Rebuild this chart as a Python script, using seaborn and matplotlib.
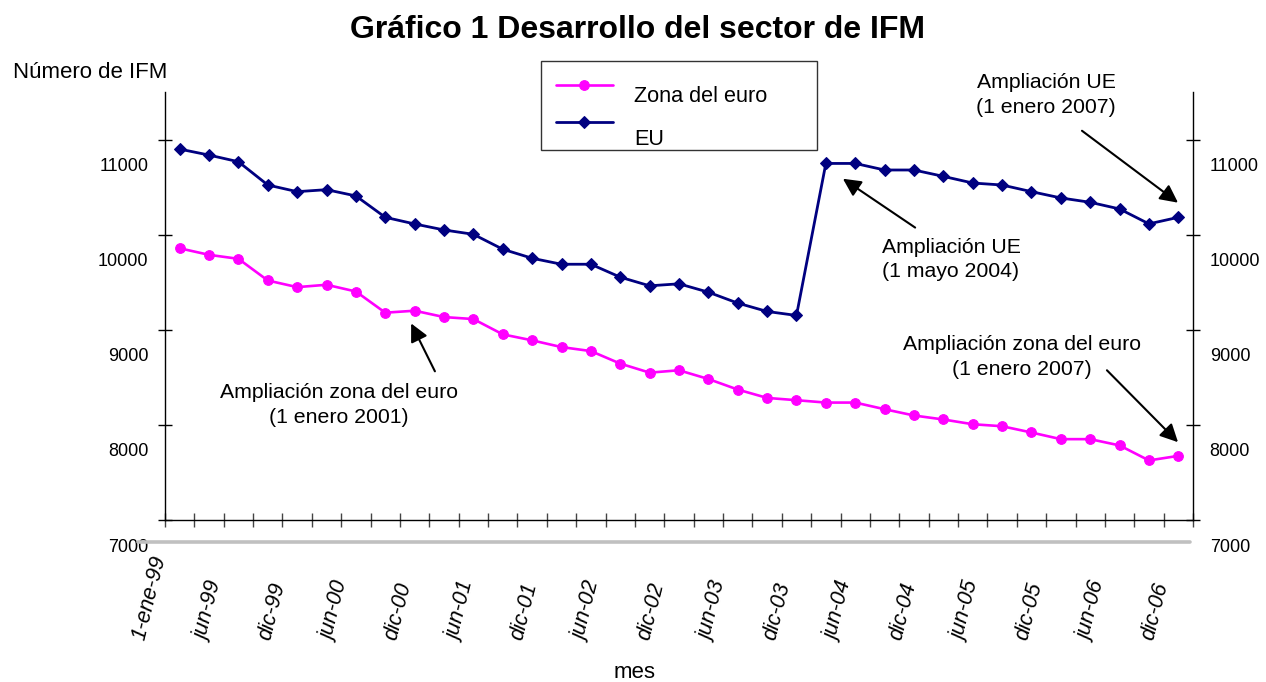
import numpy as np
import pandas as pd
import matplotlib
matplotlib.use("Agg")
import matplotlib.pyplot as plt
import matplotlib.transforms as mtransforms
import seaborn as sns

# ---------------- data ----------------
etiquetas = ["1-ene-99", "jun-99", "dic-99", "jun-00", "dic-00", "jun-01", "dic-01",
             "jun-02", "dic-02", "jun-03", "dic-03", "jun-04", "dic-04", "jun-05",
             "dic-05", "jun-06", "dic-06"]

zona_euro = [9860, 9791, 9749, 9521, 9451, 9476, 9405, 9182, 9203, 9136, 9115,
             8954, 8891, 8820, 8778, 8646, 8551, 8576, 8484, 8373, 8285, 8261,
             8236, 8236, 8166, 8100, 8058, 8008, 7987, 7921, 7851, 7851, 7785,
             7627, 7675]

eu = [10904, 10841, 10771, 10526, 10456, 10477, 10411, 10186, 10116, 10053, 10007,
      9850, 9755, 9692, 9692, 9556, 9465, 9486, 9398, 9283, 9195, 9153,
      10753, 10753, 10684, 10684, 10617, 10547, 10526, 10456, 10390, 10344, 10274,
      10117, 10186]

y_ticks = [7000, 8000, 9000, 10000, 11000]

# ---------------- style ----------------
sns.set_theme(style="white")
plt.rcParams["font.family"] = ["Liberation Sans", "DejaVu Sans"]
plt.rcParams["text.color"] = "black"
plt.rcParams["axes.labelcolor"] = "black"
plt.rcParams["xtick.color"] = "black"
plt.rcParams["ytick.color"] = "black"

W, H = 1266, 682
fig = plt.figure(figsize=(W / 100, H / 100), dpi=100)
ax = fig.add_axes([165 / W, 1 - 520 / H, 1028 / W, 428 / H])

df = pd.DataFrame({"periodo": np.arange(len(zona_euro)),
                   "Zona del euro": zona_euro, "EU": eu})

MAG = "#FF00FF"
NAVY = "#000080"
sns.lineplot(data=df, x="periodo", y="Zona del euro", ax=ax, color=MAG,
             marker="o", markersize=7, markeredgecolor=MAG, linewidth=1.9,
             label="Zona del euro")
sns.lineplot(data=df, x="periodo", y="EU", ax=ax, color=NAVY,
             marker="D", markersize=6.5, markeredgecolor=NAVY, linewidth=2.0,
             label="EU")

ax.set_xlim(-0.5, len(zona_euro) - 0.5)
ax.set_ylim(7000, 11505)
ax.set_xlabel("")
ax.set_ylabel("")

# category boundary ticks
ax.set_xticks(np.arange(-0.5, len(zona_euro), 1))
ax.tick_params(axis="x", direction="inout", length=9.5, width=1,
               color="#444444", bottom=True, labelbottom=False)

ax.set_yticks(y_ticks)
ax.set_yticklabels([str(v) for v in y_ticks])
ax.tick_params(axis="y", direction="inout", length=10, width=1, color="black",
               left=True, right=True, labelleft=True, labelright=True,
               labelsize=13, pad=7, labelcolor="black")
shift = mtransforms.ScaledTranslation(0, -0.25, fig.dpi_scale_trans)
for t in ax.yaxis.get_major_ticks():
    t.label1.set_transform(t.label1.get_transform() + shift)
    t.label2.set_transform(t.label2.get_transform() + shift)

for side in ["left", "right", "bottom"]:
    ax.spines[side].set_visible(True)
    ax.spines[side].set_color("black")
    ax.spines[side].set_linewidth(1.0)
ax.spines["top"].set_visible(False)

# grey secondary baseline
ax.axhline(6769, xmin=-0.026, xmax=0.997, color="#c0c0c0", lw=2.6, clip_on=False)

# rotated date labels on their own label axis
lab_ax = fig.add_axes([139 / W, 1 - 640 / H, 1009 / W, 0.001])
lab_ax.set_xlim(0, len(etiquetas) - 1)
lab_ax.set_xticks(np.arange(len(etiquetas)))
lab_ax.set_xticklabels(etiquetas, rotation=76, ha="left", va="center",
                       rotation_mode="anchor", fontsize=15.5, style="italic",
                       color="black")
lab_ax.tick_params(axis="x", length=0, pad=0)
lab_ax.set_yticks([])
for s in lab_ax.spines.values():
    s.set_visible(False)
lab_ax.patch.set_alpha(0)

# legend
leg = ax.legend(loc="upper left", bbox_to_anchor=(541 / W, 1 - 61 / H, 276 / W, 0),
                bbox_transform=fig.transFigure, mode="expand", frameon=True,
                fancybox=False, edgecolor="black", fontsize=15.6,
                handlelength=2.6, handletextpad=1.0, borderpad=0.7,
                labelspacing=0.78, borderaxespad=0)
leg.get_frame().set_linewidth(1.0)
for txt, dy in zip(leg.get_texts(), [0.10, 0.15]):
    txt.set_color("black")
    txt.set_transform(txt.get_transform() +
                      mtransforms.ScaledTranslation(0, -dy, fig.dpi_scale_trans))

# annotations
arrow = dict(arrowstyle="-|>", mutation_scale=27, color="black", lw=1.5,
             shrinkA=0, shrinkB=0)
fs_ann = 15.3
ls_ann = 1.38
ax.annotate("", xy=(7.88, 9069), xytext=(8.69, 8565), arrowprops=arrow)
ax.text(5.41, 8208, "Ampliación zona del euro\n(1 enero 2001)", ha="center",
        va="center", fontsize=fs_ann, linespacing=ls_ann)

ax.annotate("", xy=(22.58, 10592), xytext=(25.04, 10078), arrowprops=arrow)
ax.text(26.26, 9742, "Ampliación UE\n(1 mayo 2004)", ha="center", va="center",
        fontsize=fs_ann, linespacing=ls_ann)

ax.annotate("", xy=(33.99, 10340), xytext=(30.72, 11097), arrowprops=arrow,
            annotation_clip=False)
ax.text(29.5, 11470, "Ampliación UE\n(1 enero 2007)", ha="center", va="center",
        fontsize=fs_ann, linespacing=ls_ann)

ax.annotate("", xy=(33.99, 7819), xytext=(31.57, 8576), arrowprops=arrow)
ax.text(28.68, 8717, "Ampliación zona del euro\n(1 enero 2007)", ha="center",
        va="center", fontsize=fs_ann, linespacing=ls_ann)

# titles
fig.text(637 / W, 1 - 30 / H, "Gráfico 1 Desarrollo del sector de IFM",
         ha="center", va="center", fontsize=23, fontweight="bold", color="black")
fig.text(13 / W, 1 - 73 / H, "Número de IFM", ha="left", va="center", fontsize=16,
         color="black")
fig.text(635 / W, 1 - 672 / H, "mes", ha="center", va="center", fontsize=16,
         color="black")

fig.savefig("out.png", dpi=100)
